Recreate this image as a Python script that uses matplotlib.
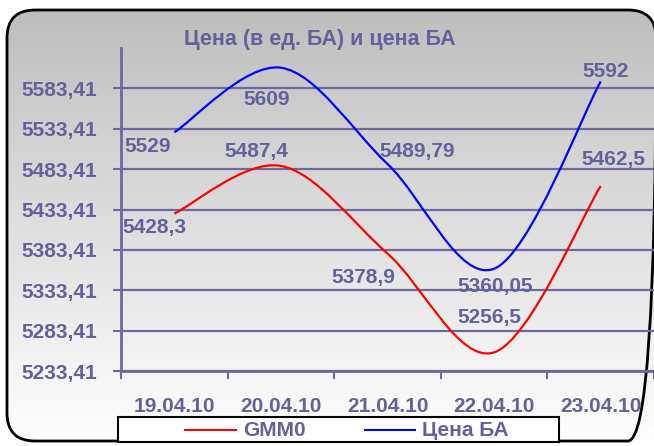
import numpy as np
import matplotlib
matplotlib.use('Agg')
import matplotlib.pyplot as plt
from matplotlib.path import Path
from matplotlib.patches import PathPatch, FancyBboxPatch, Rectangle
from matplotlib.lines import Line2D
from matplotlib.colors import LinearSegmentedColormap

# ---- data ----
categories = ['19.04.10', '20.04.10', '21.04.10', '22.04.10', '23.04.10']
gmm0 = [5428.3, 5487.4, 5378.9, 5256.5, 5462.5]
price_ba = [5529, 5609, 5489.79, 5360.05, 5592]
gmm0_labels = ['5428,3', '5487,4', '5378,9', '5256,5', '5462,5']
price_labels = ['5529', '5609', '5489,79', '5360,05', '5592']
yticks = [5233.41, 5283.41, 5333.41, 5383.41, 5433.41, 5483.41, 5533.41, 5583.41]
ytick_labels = ['5233,41', '5283,41', '5333,41', '5383,41', '5433,41', '5483,41', '5533,41', '5583,41']
title = 'Цена (в ед. БА) и цена БА'
series_names = ['GMM0', 'Цена БА']

# ---- style ----
W, H = 654, 446
TXT = '#62629c'
GRID = '#6a6aa0'
FONT = 'Liberation Sans'
plt.rcParams['font.family'] = [FONT, 'DejaVu Sans']

fig = plt.figure(figsize=(W / 100, H / 100), dpi=100)

# background with rounded border and gradient
bg = fig.add_axes([0, 0, 1, 1])
bg.set_xlim(0, W)
bg.set_ylim(H, 0)
bg.axis('off')
cmap = LinearSegmentedColormap.from_list('g', ['#bebebe', '#ffffff'])
grad = np.linspace(0, 1, 256).reshape(-1, 1)
im = bg.imshow(grad, cmap=cmap, aspect='auto', extent=[7, 656, 441, 10], origin='upper', zorder=0)
box = FancyBboxPatch((7, 10), 649, 431, boxstyle='round,pad=0,rounding_size=28',
                     facecolor='none', edgecolor='black', lw=2.0, zorder=2)
bg.add_patch(box)
im.set_clip_path(box)

# legend (manual box)
bg.add_patch(Rectangle((118, 417), 441, 25, facecolor='white', edgecolor='black', lw=1.5, zorder=3))
bg.add_line(Line2D([185, 236], [430, 430], color='red', lw=1.5, zorder=4))
bg.add_line(Line2D([365, 415], [430, 430], color='blue', lw=1.5, zorder=4))
bg.text(243, 430, series_names[0], color=TXT, fontsize=15, fontweight='bold', ha='left', va='center', zorder=4)
bg.text(422, 430, series_names[1], color=TXT, fontsize=15, fontweight='bold', ha='left', va='center', zorder=4)

# title
fig.text(320 / W, 1 - 39 / H, title, color=TXT, fontsize=15.5, fontweight='bold', ha='center', va='center')

# main axes
ax = fig.add_axes([121 / W, (H - 371) / H, 533 / W, 323 / H])
ax.set_facecolor('none')
ax.set_xlim(-0.5, 4.5)
ax.set_ylim(5233.41, 5633.41)
for s in ['top', 'right']:
    ax.spines[s].set_visible(False)
for s in ['left', 'bottom']:
    ax.spines[s].set_color(GRID)
    ax.spines[s].set_linewidth(2)

ax.set_yticks(yticks)
ax.set_yticklabels(ytick_labels)
ax.set_xticks(range(len(categories)))
ax.set_xticklabels(categories)
ax.set_xticks(np.arange(-0.5, len(categories), 1.0), minor=True)
ax.tick_params(axis='x', which='major', length=0, pad=18.5)
ax.tick_params(axis='x', which='minor', length=6, width=1.5, color=GRID, direction='out')
ax.tick_params(axis='y', length=6, width=1.5, color=GRID, direction='out', pad=11.5)
for lab in ax.get_xticklabels() + ax.get_yticklabels():
    lab.set_color(TXT)
    lab.set_fontsize(15)
    lab.set_fontweight('bold')
ax.yaxis.grid(True, color=GRID, lw=1.6)
ax.set_axisbelow(True)


def smooth_path(xs, ys):
    P = np.column_stack([xs, ys]).astype(float)
    n = len(P)
    verts = [P[0]]
    codes = [Path.MOVETO]
    for i in range(n - 1):
        p0 = P[i - 1] if i > 0 else P[i]
        p3 = P[i + 2] if i + 2 < n else P[i + 1]
        c1 = P[i] + (P[i + 1] - p0) / 6.0
        c2 = P[i + 1] - (p3 - P[i]) / 6.0
        verts += [c1, c2, P[i + 1]]
        codes += [Path.CURVE4] * 3
    return Path(verts, codes)


x = np.arange(len(categories))
ax.add_patch(PathPatch(smooth_path(x, gmm0), facecolor='none', edgecolor='red', lw=1.6, zorder=3))
ax.add_patch(PathPatch(smooth_path(x, price_ba), facecolor='none', edgecolor='blue', lw=1.6, zorder=3))

price_off = [(-27, -14), (-14, -32), (30, 12), (1, -18), (5, 10)]
gmm_off = [(-20, -14), (-25, 14), (-24, -24), (-5, 35), (13, 27)]
for i in range(len(categories)):
    ax.annotate(price_labels[i], (x[i], price_ba[i]), xytext=price_off[i], textcoords='offset pixels',
                ha='center', va='center', color=TXT, fontsize=15, fontweight='bold', zorder=5,
                annotation_clip=False)
    ax.annotate(gmm0_labels[i], (x[i], gmm0[i]), xytext=gmm_off[i], textcoords='offset pixels',
                ha='center', va='center', color=TXT, fontsize=15, fontweight='bold', zorder=5,
                annotation_clip=False)

fig.savefig('out.png', dpi=100)
